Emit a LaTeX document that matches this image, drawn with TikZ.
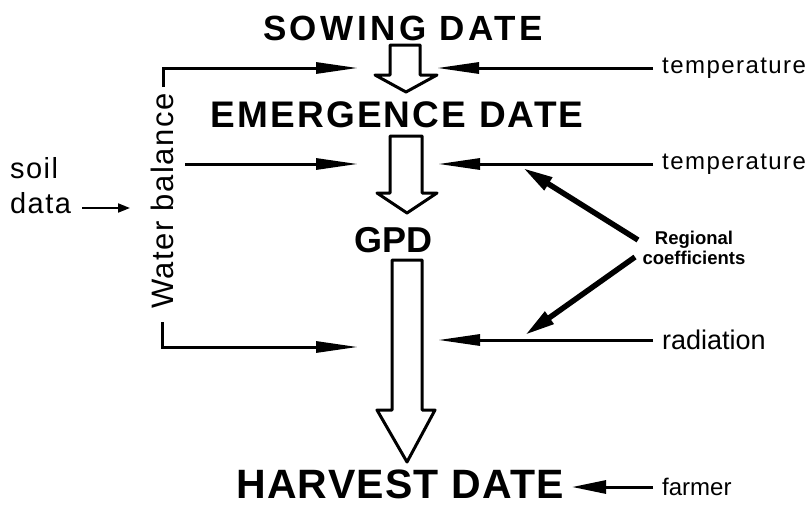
\documentclass[tikz,border=0pt]{standalone}
\usepackage{fontspec}
\setmainfont{Liberation Sans}
\newfontfamily\fsow[LetterSpace=10]{Liberation Sans}
\newfontfamily\femer[LetterSpace=6]{Liberation Sans}
\newfontfamily\fharv[LetterSpace=3]{Liberation Sans}
\newfontfamily\flab[LetterSpace=6]{Liberation Sans}
\newfontfamily\fsoil[LetterSpace=5]{Liberation Sans}
\newfontfamily\fwb[LetterSpace=5]{Liberation Sans}
\usetikzlibrary{arrows.meta}
\begin{document}
\begin{tikzpicture}[x=1pt,y=-1pt,
  title/.style={inner sep=0pt, anchor=base},
  lab/.style={inner sep=0pt},
  block/.style={draw, line width=3pt, line join=round, fill=white},
  wire/.style={line width=3pt, -{Triangle[length=42pt,width=11pt]}},
  fromlab/.style={shorten <=9pt},
  thinwire/.style={line width=2pt, -{Triangle[length=12pt,width=9pt]}},
  coef/.style={line width=5.5pt, -{Triangle[length=30pt,width=14pt]}},
  bracket/.style={line width=3pt, line join=miter}]
\useasboundingbox (0,0) rectangle (810,506);
% titles
\node[title, font=\fsow\bfseries\fontsize{35}{40}\selectfont] (sow) at (403,40) {SOWING DATE};
\node[title, font=\femer\bfseries\fontsize{37}{42}\selectfont] (emer) at (397,127) {EMERGENCE DATE};
\node[title, font=\bfseries\fontsize{36}{42}\selectfont] (gpd) at (393,252) {GPD};
\node[title, font=\fharv\bfseries\fontsize{41}{46}\selectfont] (harv) at (400,498) {HARVEST DATE};
% block arrows
\draw[block] (390,45) -- (420,45) -- (420,75) -- (437,75) -- (406,92) -- (375,75) -- (390,75) -- cycle;
\draw[block] (390,136) -- (422,136) -- (422,193) -- (437,193) -- (407,213) -- (377,193) -- (390,193) -- cycle;
\draw[block] (392,260) -- (422,260) -- (422,410) -- (435,410) -- (407,462) -- (377,410) -- (392,410) -- cycle;
% side labels
\node[lab, anchor=west, font=\flab\fontsize{24}{28}\selectfont] (t1) at (662,68) {temperature};
\node[lab, anchor=west, font=\flab\fontsize{24}{28}\selectfont] (t2) at (662,164) {temperature};
\node[lab, anchor=west, font=\fontsize{27}{30}\selectfont] (rad) at (662,340) {radiation};
\node[lab, anchor=west, font=\fontsize{24}{28}\selectfont] (farm) at (662,487) {farmer};
\node[lab, align=center, font=\bfseries\fontsize{18.5}{20}\selectfont] (rc) at (694,248) {Regional\\coefficients};
\node[lab, anchor=base west, font=\fsoil\fontsize{29}{32}\selectfont] (soil) at (10,178) {soil};
\node[lab, anchor=base west, font=\fsoil\fontsize{29}{32}\selectfont] (data) at (10,213) {data};
\node[lab, rotate=90, anchor=base, font=\fwb\fontsize{31}{34}\selectfont] (wb) at (173,201) {Water balance};
% coordinates
\coordinate (wbT) at (163,87);
\coordinate (wbTc) at (163,68);
\coordinate (e1L) at (358,68);
\coordinate (e1R) at (437,68);
\coordinate (w2s) at (185,164);
\coordinate (e2L) at (358,164);
\coordinate (e2R) at (438,164);
\coordinate (wbB) at (162,322);
\coordinate (wbBc) at (162,347);
\coordinate (e3L) at (358,347);
\coordinate (e3R) at (438,340);
\coordinate (hR) at (572,487);
\coordinate (sdA) at (82,208);
\coordinate (sdB) at (130,208);
\coordinate (rcA) at (638,240);
\coordinate (rcAt) at (523,168);
\coordinate (rcB) at (635,257);
\coordinate (rcBt) at (525,335);
% connectors
\draw[bracket] (wbT) -- (wbTc) -- ++(40,0);
\draw[wire] ([xshift=38pt]wbTc) -- (e1L);
\draw[wire, fromlab] (t1.west) -- (e1R);
\draw[wire] (w2s) -- (e2L);
\draw[wire, fromlab] (t2.west) -- (e2R);
\draw[bracket] (wbB) -- (wbBc) -- ++(40,0);
\draw[wire] ([xshift=38pt]wbBc) -- (e3L);
\draw[wire, fromlab] (rad.west) -- (e3R);
\draw[wire, fromlab, -{Triangle[length=34pt,width=13pt]}] (farm.west) -- (hR);
\draw[thinwire] (sdA) -- (sdB);
\draw[coef] (rcA) -- (rcAt);
\draw[coef] (rcB) -- (rcBt);
\end{tikzpicture}
\end{document}
